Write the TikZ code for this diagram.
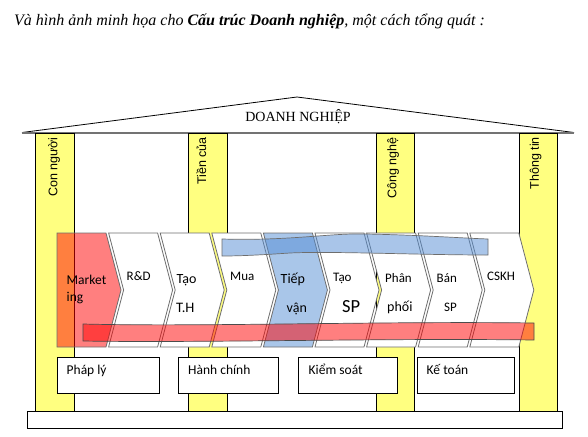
\documentclass[tikz,border=0pt]{standalone}
\usepackage{fontspec}
\setmainfont{Liberation Serif}
\newfontfamily\arialf{Liberation Sans}
\newfontfamily\calf{Carlito}
\definecolor{pillarY}{RGB}{255,255,128}
\definecolor{bandB}{RGB}{84,141,212}
\definecolor{chevG}{RGB}{110,110,110}
\tikzset{
  pillar/.style={draw=black, line width=0.9pt, fill=pillarY},
  plabel/.style={rotate=90, anchor=east, inner sep=0pt, font=\arialf\fontsize{12.5}{14}\selectfont},
  deptbox/.style={draw=black, line width=0.9pt, fill=white},
  dlabel/.style={anchor=base west, inner sep=0pt, font=\calf\fontsize{13.5}{15}\selectfont},
  chev/.style={draw=chevG, line width=0.8pt, fill=white},
  ctext/.style={anchor=base west, inner sep=0pt, font=\calf\fontsize{13}{15}\selectfont},
}
\begin{document}
\begin{tikzpicture}[x=1pt,y=-1pt]
\useasboundingbox (0,0) rectangle (588,436);
% title
\node[anchor=base west, inner sep=0pt, font=\fontsize{16}{18}\selectfont\itshape] (title) at (14,25.5)
  {Và hình ảnh minh họa cho \textbf{Cấu trúc Doanh nghiệp}, một cách tổng quát :};
% roof
\draw[black, line width=0.8pt] (22,132.5) -- (297,97) -- (574,132.5);
\draw[black!55, line width=2pt] (22,132.5) -- (574,132.5);
\node[inner sep=0pt, font=\fontsize{14}{16}\selectfont] (dn) at (298,117) {DOANH NGHIỆP};
% pillars
\draw[pillar] (35.7,133.5) rectangle (74.3,411);
\draw[pillar] (188,133.5) rectangle (227,411);
\draw[pillar] (376.5,133.5) rectangle (414,411);
\draw[pillar] (519,133.5) rectangle (557.5,411);
\node[plabel] (p1) at (54,137) {Con người};
\node[plabel] (p2) at (201.5,137) {Tiền của};
\node[plabel] (p3) at (393,137) {Công nghệ};
\node[plabel] (p4) at (535.5,137) {Thông tin};
% base
\draw[deptbox] (27.5,411) rectangle (562.5,428);
% department boxes
\draw[deptbox] (57.5,357) rectangle (159,393);
\draw[deptbox] (178,357) rectangle (278,393);
\draw[deptbox] (298,357) rectangle (397,393);
\draw[deptbox] (417.5,357) rectangle (514.5,393);
\node[dlabel] (b1) at (66.5,374.5) {Pháp lý};
\node[dlabel] (b2) at (188,374.5) {Hành chính};
\node[dlabel] (b3) at (308.5,374.5) {Kiểm soát};
\node[dlabel] (b4) at (426.5,374.5) {Kế toán};
% chevrons
\foreach \s in {108.6,160.2,211.8,315,366.6,418.2,469.8}{
  \draw[chev] (\s,233) -- ({\s+49},233) -- ({\s+64},290) -- ({\s+49},347) -- (\s,347) -- ({\s+15},290) -- cycle;
}
\draw[chev, fill=red, fill opacity=0.5] (57,233) -- (106,233) -- (121,290) -- (106,347) -- (57,347) -- cycle;
\draw[chev, fill=bandB, fill opacity=0.5] (263.4,233) -- (312.4,233) -- (327.4,290) -- (312.4,347) -- (263.4,347) -- (278.4,290) -- cycle;
% chevron texts
\node[ctext, font=\calf\fontsize{13.5}{15}\selectfont] (t1) at (66.5,284) {Market};
\node[ctext, font=\calf\fontsize{13.5}{15}\selectfont] (t1b) at (66.5,301) {ing};
\node[ctext] (t2) at (126.5,280) {R\&D};
\node[ctext, font=\calf\fontsize{14}{16}\selectfont] (t3) at (176.5,283) {Tạo};
\node[ctext, font=\calf\fontsize{14.5}{16}\selectfont] (t3b) at (176,312) {T.H};
\node[ctext] (t4) at (230,280) {Mua};
\node[ctext, font=\calf\fontsize{14}{16}\selectfont] (t5) at (280.5,283) {Tiếp};
\node[ctext, font=\calf\fontsize{14}{16}\selectfont] (t5b) at (286.5,312) {vận};
\node[ctext] (t6) at (333,281) {Tạo};
\node[ctext, font=\calf\fontsize{18.5}{20}\selectfont] (t6b) at (342,312) {SP};
\node[ctext] (t7) at (385,282) {Phân};
\node[ctext, font=\calf\fontsize{14}{15}\selectfont] (t7b) at (387,311) {phối};
\node[ctext] (t8) at (436.5,282) {Bán};
\node[ctext] (t8b) at (444,311) {SP};
\node[ctext] (t9) at (487,280) {CSKH};
% bands
\draw[draw=chevG, line width=0.7pt, fill=bandB, fill opacity=0.5]
  (222,239) .. controls (290,241) and (330,233) .. (365,234)
  .. controls (420,235) and (460,238) .. (488,239) -- (488,255)
  .. controls (420,255) and (330,251) .. (290,253) .. controls (260,255) and (240,256) .. (222,256) -- cycle;
\draw[draw=black!70, line width=0.7pt, fill=red, fill opacity=0.5]
  (83,324) .. controls (200,327) and (380,321) .. (534,323) -- (534,340)
  .. controls (380,338) and (200,343) .. (83,341) -- cycle;
\end{tikzpicture}
\end{document}
